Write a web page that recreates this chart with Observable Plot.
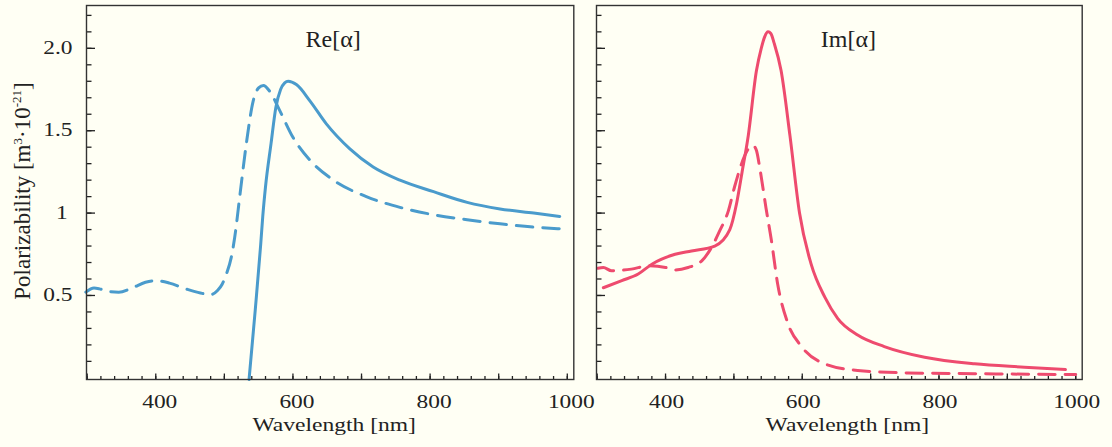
<!DOCTYPE html>
<html><head><meta charset="utf-8">
<script src="https://cdn.jsdelivr.net/npm/d3@7"></script>
<script src="https://cdn.jsdelivr.net/npm/@observablehq/plot@0.6"></script>
<style>
html,body{margin:0;padding:0;background:#fffff4;}
#wrap{position:relative;width:1112px;height:447px;overflow:hidden;background:#fffff4;}
#wrap svg{position:absolute;left:0;top:0;}
</style></head><body><div id="wrap"></div>
<script>
// ---- data (wavelength in nm, polarizability in 1e-21 m^3) ----
const reSolidNm  = [536, 545, 553, 556, 560, 568, 575, 582, 588, 593, 605, 625, 649, 683, 717, 756, 805, 854, 902, 951, 989];
const reSolidVal = [-0.01, 0.41, 0.81, 0.98, 1.16, 1.42, 1.64, 1.75, 1.79, 1.80, 1.78, 1.68, 1.54, 1.39, 1.28, 1.20, 1.13, 1.065, 1.025, 1.0, 0.98];

const reDashNm  = [298, 310, 318, 330, 346, 365, 385, 400, 420, 444, 465, 480, 490, 497, 503, 510, 515, 523, 532, 542, 550, 557, 566, 581, 600, 625, 659, 707, 756, 805, 854, 902, 951, 989];
const reDashVal = [0.52, 0.545, 0.54, 0.525, 0.52, 0.545, 0.58, 0.59, 0.575, 0.54, 0.515, 0.505, 0.53, 0.57, 0.63, 0.73, 0.85, 1.12, 1.42, 1.68, 1.76, 1.775, 1.74, 1.62, 1.46, 1.32, 1.20, 1.10, 1.035, 0.99, 0.96, 0.935, 0.915, 0.905];

const imSolidNm  = [309, 336, 360, 380, 414, 438, 472, 494, 504, 512, 521, 533, 540, 545, 550, 554, 559, 569, 582, 596, 613, 633, 652, 681, 720, 779, 852, 925, 985];
const imSolidVal = [0.547, 0.59, 0.63, 0.69, 0.75, 0.77, 0.80, 0.90, 1.06, 1.25, 1.47, 1.865, 2.0, 2.07, 2.10, 2.09, 2.03, 1.865, 1.47, 1.0, 0.69, 0.49, 0.36, 0.26, 0.19, 0.125, 0.085, 0.065, 0.05];

const imDashNm  = [301, 309, 321, 350, 375, 400, 414, 433, 453, 467, 479, 492, 501, 516, 523, 528, 533, 538, 547, 555, 564, 579, 599, 633, 681, 754, 852, 1000];
const imDashVal = [0.665, 0.67, 0.65, 0.66, 0.68, 0.67, 0.655, 0.67, 0.71, 0.79, 0.89, 1.015, 1.16, 1.35, 1.40, 1.41, 1.38, 1.27, 1.03, 0.83, 0.57, 0.33, 0.19, 0.085, 0.045, 0.03, 0.025, 0.02];

const xMinorTicks = d3.range(300, 1001, 20);
const xMajorTicks = d3.range(300, 1001, 100);
const xLabelTicks = [400, 600, 800, 1000];
const yMinorTicks = d3.range(1, 23).map(i => i / 10);
const yLabelTicks = [0.5, 1, 1.5, 2];
const yTickText   = ["0.5", "1\u2009", "1.5", "2.0"];

const panelTitles = ["Re[α]", "Im[α]"];
const xTitle = "Wavelength [nm]";
const yTitle = "Polarizability [m³·10⁻²¹]";

// ---- drawing ----
const INK = "#222";
const FONT = "'Liberation Serif','Times New Roman',serif";
const X_DOMAIN = [299, 1009.5];
const Y_DOMAIN = [-0.01, 2.26];
const TOP = 5, BOTTOM = 68, H = 447;
const rows = (xs, ys) => xs.map((x, i) => ({x, y: ys[i]}));
const yFmt = new Map(yLabelTicks.map((v, i) => [v, yTickText[i]]));

function panel(o) {
  // inward tick lengths given in pixels, converted to data units of each scale
  const frameW = 1112 - o.marginLeft - o.marginRight, frameH = H - TOP - BOTTOM;
  const dyPx = (Y_DOMAIN[1] - Y_DOMAIN[0]) / frameH, dxPx = (X_DOMAIN[1] - X_DOMAIN[0]) / frameW;
  const tickStyle = {stroke: "#222", strokeWidth: 1.3};
  const inX = (ticks, len) => Plot.ruleX(ticks, {x: d => d, y1: Y_DOMAIN[0], y2: Y_DOMAIN[0] + len * dyPx, ...tickStyle});
  const inY = (ticks, len) => Plot.ruleY(ticks, {y: d => d, x1: X_DOMAIN[0], x2: X_DOMAIN[0] + len * dxPx, ...tickStyle});
  const marks = [
    inX(xMinorTicks, 3),
    inX(xMajorTicks, 5.5),
    Plot.axisX(xLabelTicks, {tickSize: 0, tickPadding: 15.5, fontSize: 18, label: null, dx: o.xLabelDx, tickFormat: d => String(d)}),
    inY(yMinorTicks, 5.5),
    inY(yLabelTicks, 9)
  ];
  if (o.yLabels) {
    marks.push(
      Plot.axisY(yLabelTicks, {tickSize: 0, tickPadding: 14, fontSize: 18, label: null, tickFormat: d => yFmt.get(d)}),
      Plot.text([yTitle], {text: d => d, frameAnchor: "left", dx: -64, dy: -1.5, rotate: -90, textAnchor: "middle", fontSize: 23, fill: INK})
    );
  } else {
    marks.push(Plot.axisY([], {tickSize: 0, label: null}));
  }
  marks.push(
    Plot.line(o.dashed, {x: "x", y: "y", stroke: o.color, strokeWidth: 3, strokeDasharray: "16.5,10", curve: "monotone-x"}),
    Plot.line(o.solid, {x: "x", y: "y", stroke: o.color, strokeWidth: 3, curve: "monotone-x"}),
    Plot.frame({stroke: "#333", strokeWidth: 1.4}),
    Plot.text([o.title], {text: d => d, frameAnchor: "top", dy: 24, dx: o.titleDx, fontSize: 24, fill: INK}),
    Plot.text([xTitle], {text: d => d, frameAnchor: "bottom", dy: 51, dx: o.xTitleDx, fontSize: 19, fill: INK})
  );
  return Plot.plot({
    width: 1112, height: H,
    marginLeft: o.marginLeft, marginRight: o.marginRight, marginTop: TOP, marginBottom: BOTTOM,
    x: {domain: X_DOMAIN},
    y: {domain: Y_DOMAIN},
    style: {background: "transparent", fontFamily: FONT, fontSize: "18px", color: INK, overflow: "visible"},
    marks
  });
}

function stretch(svg) {
  svg.querySelectorAll("text").forEach(t => {
    const s = t.textContent;
    if (!s || s.includes("Polarizability") || s.includes("α")) return;
    const f = s.startsWith("Wavelength") ? 1.24 : 1.3;
    let tr = t.getAttribute("transform");
    if (!tr) {
      const x = +(t.getAttribute("x") || 0), y = +(t.getAttribute("y") || 0);
      t.removeAttribute("x"); t.removeAttribute("y");
      tr = `translate(${x},${y})`;
    }
    t.setAttribute("transform", `${tr} scale(${f},1)`);
  });
  const ns = "http://www.w3.org/2000/svg";
  const yl = [...svg.querySelectorAll("text")].find(t => t.textContent.includes("Polarizability"));
  if (yl) {
    const parts = [["Polarizability [m", 0], ["3", -8], ["·10", 8], ["-21", -9], ["]", 9]];
    yl.textContent = "";
    parts.forEach(([s, dy]) => {
      const ts = document.createElementNS(ns, "tspan");
      ts.textContent = s;
      if (dy) ts.setAttribute("dy", dy);
      if (dy < 0) ts.setAttribute("font-size", 13);
      yl.appendChild(ts);
    });
  }
}

const wrap = document.getElementById("wrap");
const left = panel({
  title: panelTitles[0], color: "#4a9bcc",
  solid: rows(reSolidNm, reSolidVal), dashed: rows(reDashNm, reDashVal),
  yLabels: true, marginLeft: 86, marginRight: 538.7, titleDx: 3, xTitleDx: 4, xLabelDx: 4
});
const right = panel({
  title: panelTitles[1], color: "#ee4b6e",
  solid: rows(imSolidNm, imSolidVal), dashed: rows(imDashNm, imDashVal),
  yLabels: false, marginLeft: 596, marginRight: 30.3, titleDx: 9, xTitleDx: 8, xLabelDx: 1
});
wrap.append(left, right);
stretch(left); stretch(right);
</script></body></html>
